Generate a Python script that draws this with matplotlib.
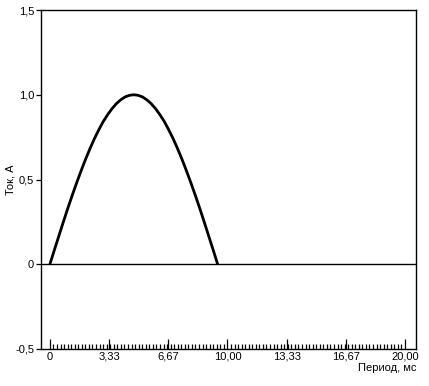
import numpy as np
import matplotlib
matplotlib.use("Agg")
import matplotlib.pyplot as plt
from matplotlib.ticker import FixedLocator

plt.rcParams['font.family'] = ['Liberation Sans', 'DejaVu Sans']

# Data
time_ms = [0.0, 0.25, 0.5, 0.75, 1.0, 1.25, 1.5, 1.75, 2.0, 2.25, 2.5, 2.75,
           3.0, 3.25, 3.5, 3.75, 4.0, 4.25, 4.5, 4.725, 4.95, 5.2, 5.45, 5.7,
           5.95, 6.2, 6.45, 6.7, 6.95, 7.2, 7.45, 7.7, 7.95, 8.2, 8.45, 8.7,
           8.95, 9.2, 9.45]
current_a = [0.0, 0.083, 0.165, 0.247, 0.327, 0.404, 0.478, 0.549, 0.617,
             0.680, 0.739, 0.792, 0.841, 0.882, 0.918, 0.948, 0.971, 0.988,
             0.997, 1.0, 0.997, 0.988, 0.971, 0.948, 0.918, 0.882, 0.841,
             0.792, 0.739, 0.680, 0.617, 0.549, 0.478, 0.404, 0.327, 0.247,
             0.165, 0.083, 0.0]

x_major = [0, 3.333, 6.667, 10.0, 13.333, 16.667, 20.0]
x_labels = ["0", "3,33", "6,67", "10,00", "13,33", "16,67", "20,00"]
x_minor_step = 0.2
y_ticks = [-0.5, 0, 0.5, 1.0, 1.5]
y_labels = ["-0,5", "0", "0,5", "1,0", "1,5"]

W, H = 429, 386
fig = plt.figure(figsize=(W / 100, H / 100), dpi=100)
ax = fig.add_axes([41 / W, 1 - 349 / H, (416 - 41) / W, (349 - 10) / H])

ax.plot(time_ms, current_a, color='black', lw=2.0, solid_capstyle='butt',
        solid_joinstyle='round')
ax.axhline(0, color='black', lw=1.0)

ax.set_xlim(-0.5, 20.62)
ax.set_ylim(-0.5, 1.5)

ax.xaxis.set_major_locator(FixedLocator(x_major))
ax.set_xticklabels(x_labels)
ax.xaxis.set_minor_locator(FixedLocator(np.arange(0, 20.001, x_minor_step)))
ax.tick_params(axis='x', which='major', direction='in', length=7, width=0.9,
               pad=2, labelsize=8)
ax.tick_params(axis='x', which='minor', direction='in', length=3.4, width=0.9)

ax.set_yticks(y_ticks)
ax.set_yticklabels(y_labels)
ax.tick_params(axis='y', which='major', direction='out', length=3.5, width=0.9,
               pad=1.5, labelsize=8)

for s in ax.spines.values():
    s.set_linewidth(1.0)

ax.set_ylabel("Ток, А", fontsize=8, labelpad=0)
fig.text(417 / W, 1 - 368 / H, "Период, мс", fontsize=8, ha='right', va='center')

fig.savefig("out.png", dpi=100)
